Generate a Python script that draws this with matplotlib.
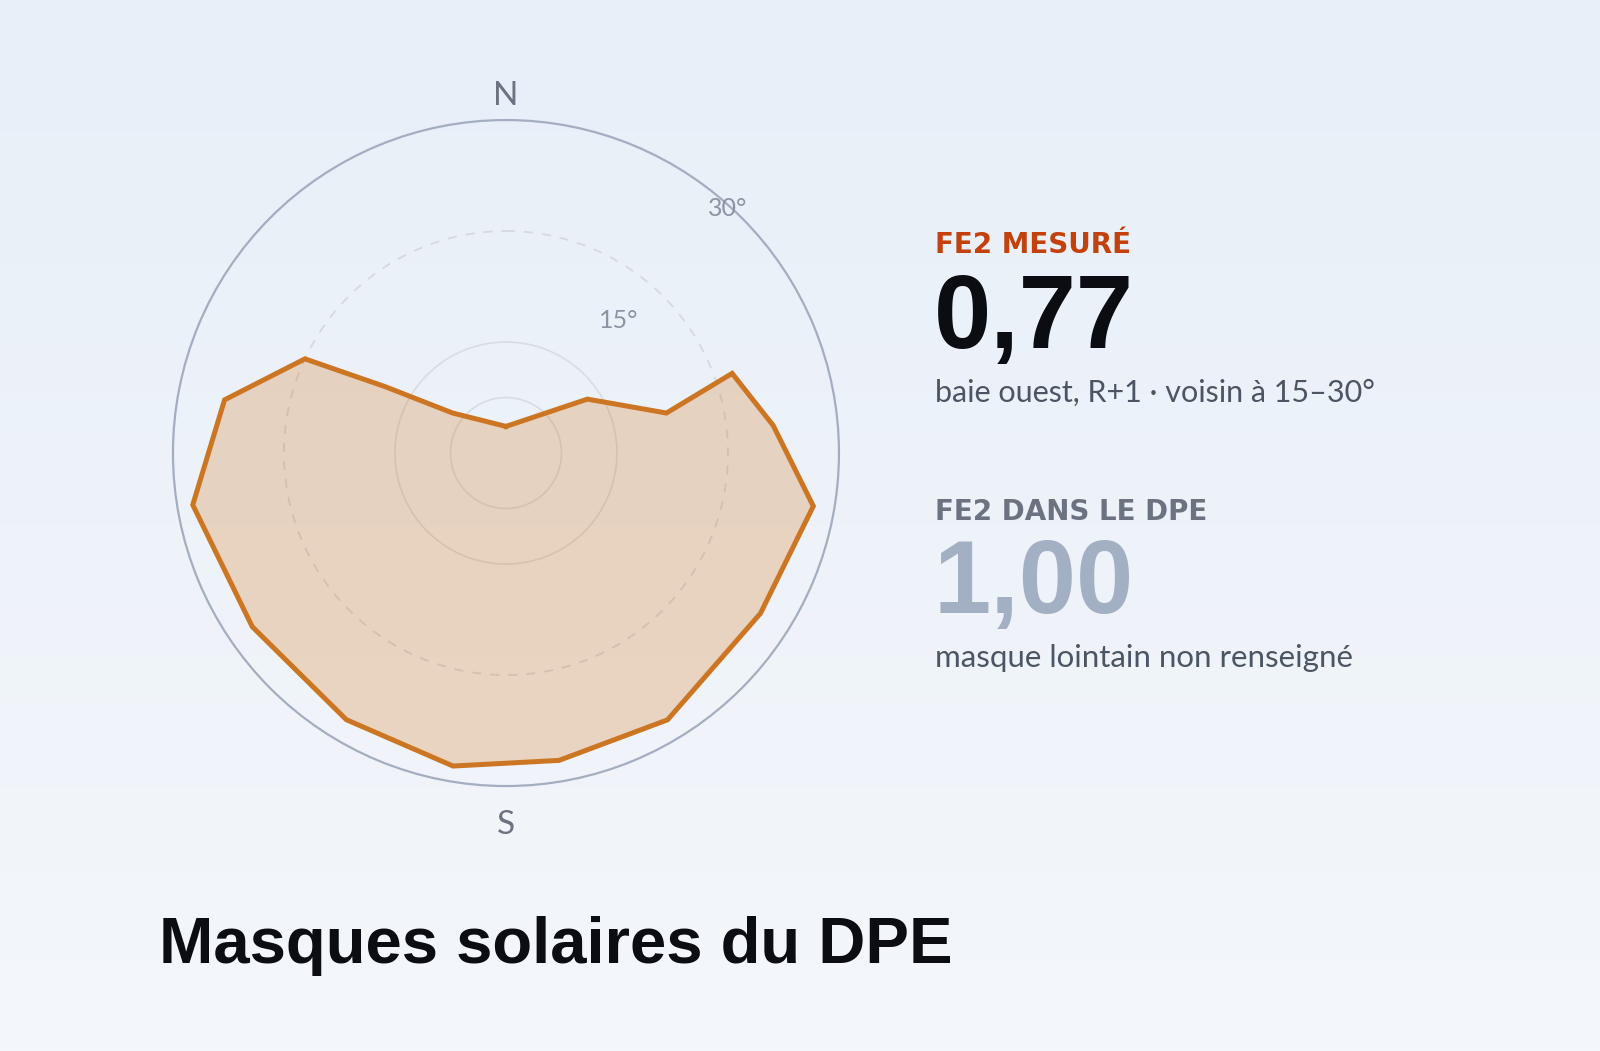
import numpy as np
import matplotlib.pyplot as plt

# Masque : azimut (deg, depuis le nord, sens horaire) et hauteur (deg)
azimuts = [0, 56.5, 76, 70.6, 84.1, 99.8, 122.2, 148.8, 170.2, 189.6,
           210.9, 235.6, 260.6, 280.7, 295.1, 298.8, 306.9]
hauteurs = [2.4, 8.8, 14.9, 21.6, 24.2, 28.1, 27.1, 28.1, 28.1, 28.6,
            28.0, 27.7, 28.6, 25.8, 20.0, 12.4, 6.0]

# Cercles de référence
rings_faint = [5, 10]
ring_dashed = 20
r_max = 30
ring_labels = [("30°", 42.2, 29.7), ("15°", 40.5, 15.7)]

fe2_mesure = "0,77"
fe2_dpe = "1,00"

fig = plt.figure(figsize=(16, 10.51), dpi=100)

# fond en dégradé
bg = fig.add_axes([0, 0, 1, 1], zorder=-10)
grad = np.linspace(0, 1, 256)[:, None]
top = np.array([232, 239, 248]) / 255
bot = np.array([244, 247, 251]) / 255
img = top + (bot - top) * grad[:, :, None]
bg.imshow(img, aspect='auto', extent=[0, 1, 0, 1])
bg.axis('off')

# polar plot
ax = fig.add_axes([0.1081, 0.2521, 0.41625, 0.6337], projection='polar')
ax.set_theta_zero_location('N')
ax.set_theta_direction(-1)
ax.set_ylim(0, r_max)
ax.set_facecolor('none')
ax.set_xticks([])
ax.set_yticks([])
ax.grid(False)
ax.spines['polar'].set_color('#a4aec0')
ax.spines['polar'].set_linewidth(1.6)

circ = np.linspace(0, 2 * np.pi, 400)
for r in rings_faint:
    ax.plot(circ, np.full_like(circ, r), color='#d9dce2', lw=1.2, zorder=1)
ax.plot(circ, np.full_like(circ, ring_dashed), color='#d5d9e0', lw=1.3,
        linestyle=(0, (5, 5)), zorder=1)

th = np.deg2rad(azimuts + azimuts[:1])
rr = np.array(hauteurs + hauteurs[:1])
ax.fill(th, rr, color='#d4791f', alpha=0.26, lw=0, zorder=2)
ax.plot(th, rr, color='#cc7623', lw=3.6, solid_joinstyle='miter', zorder=3)

for txt, az, r in ring_labels:
    ax.text(np.deg2rad(az), r, txt, ha='center', va='center', fontsize=18,
            color='#8c95a4', family='Lato', zorder=4)

ax.text(0, 32.2, "N", ha='center', va='center', fontsize=24, color='#6b7280',
        family='Lato', clip_on=False)
ax.text(np.pi, 33.5, "S", ha='center', va='center', fontsize=24, color='#6b7280',
        family='Lato', clip_on=False)

# panneau de droite
def px(x, y):
    return x / 1600, 1 - y / 1051

fig.text(*px(935, 253), "FE2 MESURÉ", fontsize=20, fontweight='bold',
         color='#c2410c', family='DejaVu Sans', va='baseline')
fig.text(*px(934, 348), fe2_mesure, fontsize=74, fontweight='bold',
         color='#0b0d12', family='Liberation Sans', va='baseline')
fig.text(*px(935, 402), "baie ouest, R+1 · voisin à 15–30°", fontsize=22,
         color='#4b5563', family='Lato', va='baseline')

fig.text(*px(935, 520), "FE2 DANS LE DPE", fontsize=20, fontweight='bold',
         color='#6b7280', family='DejaVu Sans', va='baseline')
fig.text(*px(934, 613), fe2_dpe, fontsize=74, fontweight='bold',
         color='#a3afc2', family='Liberation Sans', va='baseline')
fig.text(*px(935, 667), "masque lointain non renseigné", fontsize=22.5,
         color='#4b5563', family='Lato', va='baseline')

fig.text(*px(159, 963), "Masques solaires du DPE", fontsize=47, fontweight='bold',
         color='#0b0d12', family='Liberation Sans', va='baseline')

fig.savefig('out.png', dpi=100)
